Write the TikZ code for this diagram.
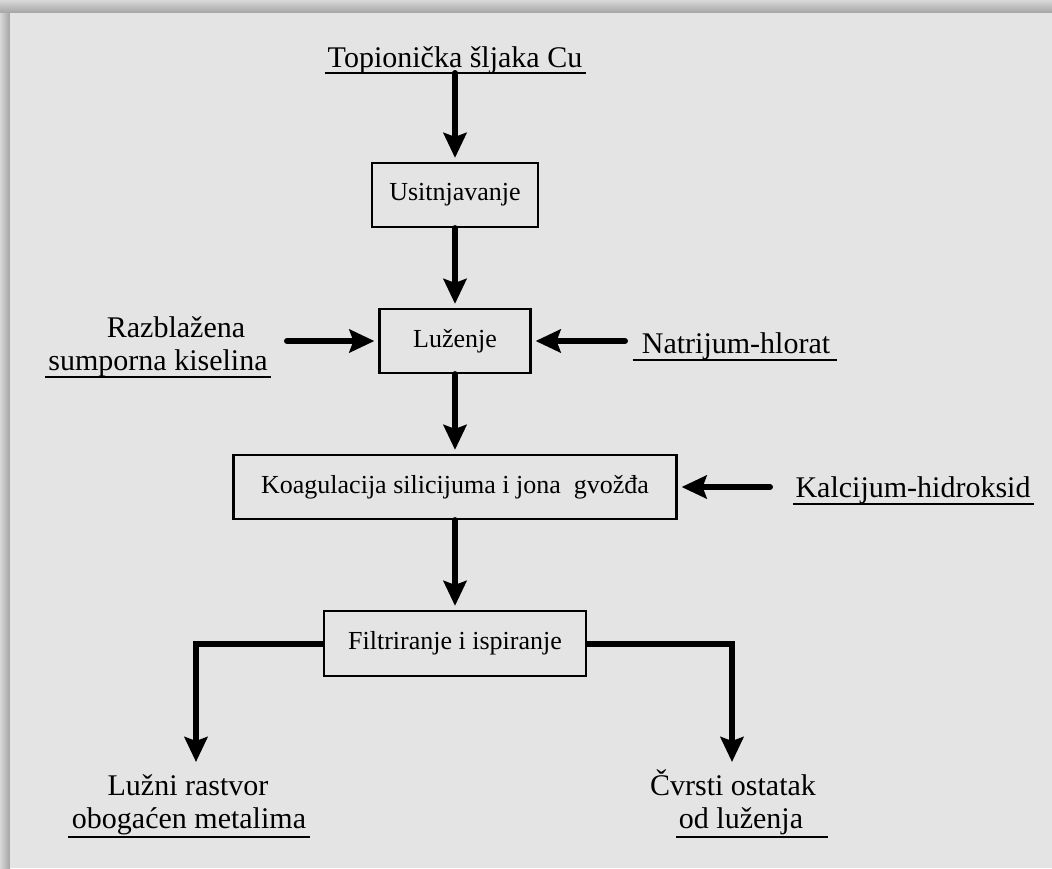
\documentclass[tikz,border=0pt]{standalone}
\usepackage{fontspec}
\setmainfont{Liberation Serif}
\usetikzlibrary{arrows.meta,calc}
\definecolor{panel}{HTML}{E4E4E4}
\definecolor{shadowdark}{HTML}{A4A4A4}
\definecolor{shadowlight}{HTML}{D8D8D8}
\begin{document}
\begin{tikzpicture}[x=1pt,y=-1pt,
  stepbox/.style={draw, line width=2.2pt, inner sep=0pt,
    font=\fontsize{26}{30}\selectfont},
  lbl/.style={anchor=base, inner sep=0pt, font=\fontsize{30}{33}\selectfont},
  uline/.style={line width=2pt},
  flow/.style={line width=6pt, line cap=round, line join=miter,
    -{Stealth[length=25pt,width=23pt,inset=4pt]}, shorten >=4pt},
]
% page, drop shadow and panel
\useasboundingbox (0,0) rectangle (1052,868);
\fill[shadowlight] (0,0) rectangle (1052,868);
\shade[top color=shadowlight, bottom color=shadowdark] (0,0) rectangle (1052,13);
\shade[left color=shadowlight, right color=shadowdark] (0,13) rectangle (10,868);
\fill[panel] (10,13) rectangle (1052,868);

% process steps
\node[stepbox, minimum width=166pt, minimum height=64pt] (usit) at (455,195) {Usitnjavanje};
\node[stepbox, minimum width=151pt, minimum height=64pt] (luz) at (455,341) {Luženje};
\node[stepbox, minimum width=443pt, minimum height=64pt] (koag) at (455,487) {Koagulacija silicijuma i jona \ gvožđa};
\node[stepbox, minimum width=262pt, minimum height=65pt] (filt) at (455,643.5) {Filtriranje i ispiranje};

% inputs and outputs
\node[lbl] (top) at (455,67) {Topionička šljaka Cu};
\node[lbl] (raz1) at (176,337) {Razblažena};
\node[lbl] (raz2) at (158,370) {sumporna kiselina};
\node[lbl] (natr) at (736,353) {Natrijum-hlorat};
\node[lbl] (kalc) at (913,497) {Kalcijum-hidroksid};
\node[lbl] (lz1) at (188,795) {Lužni rastvor};
\node[lbl] (lz2) at (189,828) {obogaćen metalima};
\node[lbl] (cv1) at (733,795) {Čvrsti ostatak};
\node[lbl] (cv2) at (741,828) {od luženja};

% underlines
\draw[uline] ($(top.base west)+(-3,6)$) -- ($(top.base east)+(4,6)$);
\draw[uline] ($(raz2.base west)+(-3,7)$) -- ($(raz2.base east)+(3,7)$);
\draw[uline] ($(natr.base west)+(-9,7)$) -- ($(natr.base east)+(7,7)$);
\draw[uline] ($(kalc.base west)+(-2,7)$) -- ($(kalc.base east)+(3,7)$);
\draw[uline] ($(lz2.base west)+(-4,9)$) -- ($(lz2.base east)+(4,9)$);
\draw[uline] ($(cv2.base west)+(-3,9)$) -- ($(cv2.base east)+(25,9)$);

% connector ends
\coordinate (topu) at ($(top.base)+(0,6)$);
\coordinate (rin) at (287,341);
\coordinate (nin) at (625,341);
\coordinate (kin) at (770,487);
\coordinate (lout) at (196,766);
\coordinate (rout) at (732,766);

% main flow
\draw[flow] (topu) -- (usit.north);
\draw[flow] (usit.south) -- (luz.north);
\draw[flow] (luz.south) -- (koag.north);
\draw[flow] (koag.south) -- (filt.north);
\draw[flow] (rin) -- (luz.west);
\draw[flow] (nin) -- (luz.east);
\draw[flow] (kin) -- (koag.east);
\draw[flow, line cap=butt] (filt.west) -| (lout);
\draw[flow, line cap=butt] (filt.east) -| (rout);
\end{tikzpicture}
\end{document}
